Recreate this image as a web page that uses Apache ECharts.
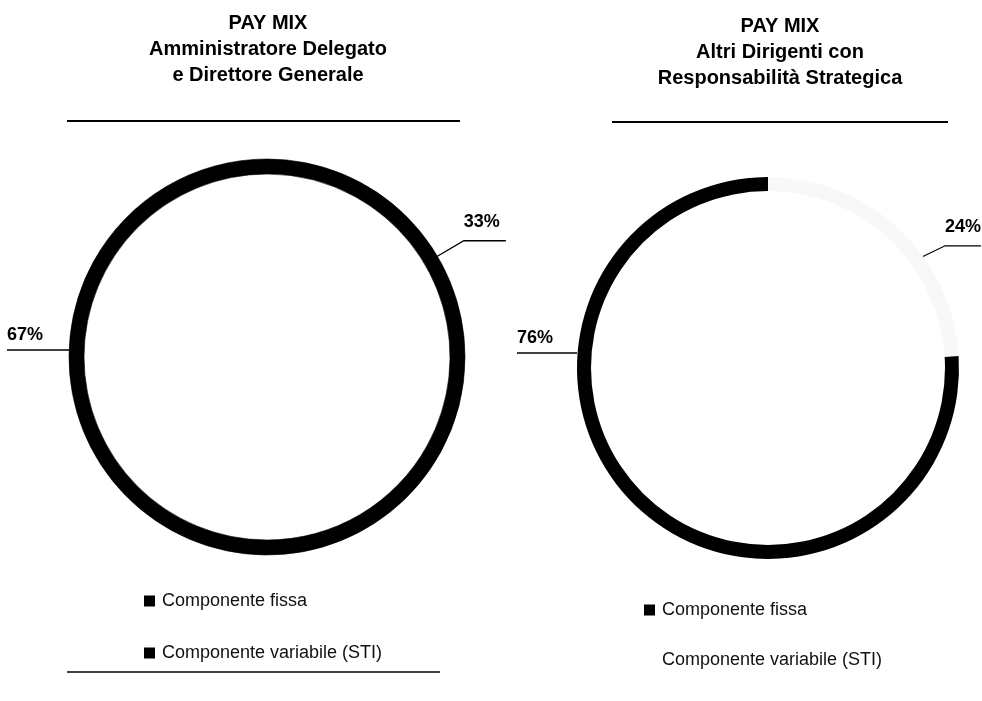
<!DOCTYPE html>
<html>
<head>
<meta charset="utf-8">
<script src="https://cdn.jsdelivr.net/npm/echarts@6/dist/echarts.min.js"></script>
<style>
  html, body { margin: 0; padding: 0; background: #fff; }
  #chart { width: 982px; height: 701px; }
</style>
</head>
<body>
<div id="chart"></div>
<script>
// ---- data ----
const categories = ['Componente fissa', 'Componente variabile (STI)'];
const ceoValues = [67, 33];      // Amministratore Delegato e Direttore Generale
const othersValues = [76, 24];   // Altri Dirigenti con Responsabilità Strategica
const titles = [
  'PAY MIX\nAmministratore Delegato\ne Direttore Generale',
  'PAY MIX\nAltri Dirigenti con\nResponsabilità Strategica'
];

// ---- layout (pixels) ----
const FONT = '"Liberation Sans", Arial, Helvetica, sans-serif';
const GEOM = [
  { cx: 267, cy: 357, r: 198, r0: 183, bigRise: 7, bigLen: 62, angleShift: 0, startR: 195, elbow: [29, -17], hLen: 42 },
  { cx: 768, cy: 368, r: 191, r0: 177, bigRise: 15, bigLen: 60, angleShift: 10.4, startR: 179, elbow: [33, -16], hLen: 36 }
];
const seriesColors = [
  ['#000000', '#000000'],   // fissa, variabile
  ['#000000', '#f8f8f8']
];
const seamBorder = [
  { borderColor: '#000', borderWidth: 0.6 },
  { borderWidth: 0 }
];

function buildData(si, values) {
  const colors = seriesColors[si];
  // variable component first so it starts at 12 o'clock, clockwise
  return [
    { name: categories[1], value: values[1], itemStyle: Object.assign({ color: colors[1] }, seamBorder[si]) },
    { name: categories[0], value: values[0], itemStyle: Object.assign({ color: colors[0] }, seamBorder[si]) }
  ];
}

function makeLayout(si, values) {
  return function (params) {
    const g = GEOM[si];
    if (params.dataIndex === 1) {
      // large (fixed) component: horizontal line at 9 o'clock
      const y = g.cy - g.bigRise;
      const xEdge = g.cx - g.r;
      const xEnd = xEdge - g.bigLen;
      return {
        x: xEnd, y: y - 6, align: 'left', verticalAlign: 'bottom',
        labelLinePoints: [[xEdge, y], [xEdge, y], [xEnd, y]]
      };
    }
    const total = values[0] + values[1];
    const mid = (values[1] / total) * 180 + g.angleShift; // degrees from top, clockwise
    const a = mid * Math.PI / 180;
    const sx = g.cx + g.startR * Math.sin(a);
    const sy = g.cy - g.startR * Math.cos(a);
    const ex = sx + g.elbow[0], ey = sy + g.elbow[1];
    return {
      x: ex, y: ey - 10, align: 'left', verticalAlign: 'bottom',
      labelLinePoints: [[sx, sy], [ex, ey], [ex + g.hLen, ey]]
    };
  };
}

function makeSeries(si, values) {
  const g = GEOM[si];
  return {
    type: 'pie',
    name: titles[si],
    center: [g.cx, g.cy],
    radius: [g.r0, g.r],
    startAngle: 90,
    clockwise: true,
    avoidLabelOverlap: false,
    silent: true,
    emphasis: { scale: false },
    data: buildData(si, values),
    label: {
      show: true,
      position: 'outside',
      formatter: '{c}%',
      color: '#000',
      fontFamily: FONT,
      fontWeight: 'bold',
      fontSize: 18
    },
    labelLine: {
      show: true,
      length: 30,
      length2: 40,
      lineStyle: { color: '#000', width: 1.3 }
    },
    labelLayout: makeLayout(si, values)
  };
}

const titleStyle = {
  fontFamily: FONT, fontWeight: 'bold', fontSize: 20, lineHeight: 26, color: '#000'
};

const legendText = { fontFamily: FONT, fontSize: 18, color: '#111', padding: [0, 0, 0, 2] };

const option = {
  backgroundColor: '#ffffff',
  animation: false,
  title: [
    { text: titles[0], left: 263, top: 5, textAlign: 'center', textStyle: titleStyle },
    { text: titles[1], left: 775, top: 8, textAlign: 'center', textStyle: titleStyle }
  ],
  legend: [
    {
      orient: 'vertical', left: 139, top: 587, itemGap: 34,
      itemWidth: 11, itemHeight: 11, icon: 'rect',
      selectedMode: false,
      textStyle: legendText,
      data: [
        { name: categories[0], itemStyle: { color: '#000', borderWidth: 0 } },
        { name: categories[1], itemStyle: { color: '#000', borderWidth: 0 } }
      ]
    },
    {
      orient: 'vertical', left: 639, top: 596, itemGap: 32,
      itemWidth: 11, itemHeight: 11, icon: 'rect',
      selectedMode: false,
      textStyle: legendText,
      data: [
        { name: categories[0], itemStyle: { color: '#000', borderWidth: 0 } },
        { name: categories[1], itemStyle: { color: 'rgba(0,0,0,0)', borderWidth: 0, borderColor: 'rgba(0,0,0,0)' } }
      ]
    }
  ],
  graphic: [
    { type: 'line', shape: { x1: 67, y1: 121, x2: 460, y2: 121 }, style: { stroke: '#000', lineWidth: 2 } },
    { type: 'line', shape: { x1: 612, y1: 122, x2: 948, y2: 122 }, style: { stroke: '#000', lineWidth: 2 } },
    { type: 'line', shape: { x1: 67, y1: 672, x2: 440, y2: 672 }, style: { stroke: '#000', lineWidth: 1.5 } }
  ],
  series: [
    makeSeries(0, ceoValues),
    makeSeries(1, othersValues)
  ]
};

const chart = echarts.init(document.getElementById('chart'), null, { renderer: 'canvas' });
chart.setOption(option);
</script>
</body>
</html>
